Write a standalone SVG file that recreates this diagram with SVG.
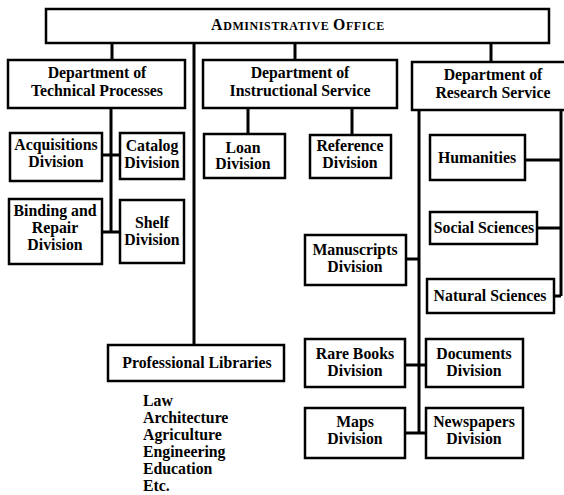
<svg xmlns="http://www.w3.org/2000/svg" width="564" height="495" viewBox="0 0 564 495">
<style>
  .bx { fill: #fff; stroke: #000; stroke-width: 2.5; }
  .ln { fill: none; stroke: #000; stroke-width: 3; stroke-linecap: butt; }
  text { font-family: "Liberation Serif", "Times New Roman", serif; font-weight: bold; font-size: 15.8px; fill: #000; }
  .c { text-anchor: middle; }
  .sc { font-size: 12px; }
</style>
<rect width="564" height="495" fill="#fff"/>
<g id="connectors">
  <path class="ln" d="M112 43V60 M295 43V60 M491 43V62"/>
  <path class="ln" d="M194 43V345"/>
  <path class="ln" d="M111 108V232 M102 155H120 M102 232H120"/>
  <path class="ln" d="M248 108V134 M352 108V135"/>
  <path class="ln" d="M419 110V433 M406 259H419 M405 365H426 M405 433H426"/>
  <path class="ln" d="M561 110V296 M525 160H561 M537 228H561 M554 296H561"/>
</g>
<g id="admin">
  <rect class="bx" x="46" y="9" width="503" height="34"/>
  <text class="c" x="298" y="30" letter-spacing="0.6">A<tspan class="sc">DMINISTRATIVE </tspan>O<tspan class="sc">FFICE</tspan></text>
</g>
<g id="dept-technical">
  <rect class="bx" x="8" y="60" width="177" height="48"/>
  <text class="c" x="97" y="78">Department of</text>
  <text class="c" x="97" y="96">Technical Processes</text>
</g>
<g id="dept-instructional">
  <rect class="bx" x="203" y="60" width="194" height="48"/>
  <text class="c" x="300" y="78">Department of</text>
  <text class="c" x="300" y="96">Instructional Service</text>
</g>
<g id="dept-research">
  <rect class="bx" x="412" y="62" width="160" height="48"/>
  <text class="c" x="493" y="80">Department of</text>
  <text class="c" x="493" y="98">Research Service</text>
</g>
<g id="acquisitions">
  <rect class="bx" x="10" y="133" width="92" height="48"/>
  <text class="c" x="56" y="150">Acquisitions</text>
  <text class="c" x="56" y="167">Division</text>
</g>
<g id="catalog">
  <rect class="bx" x="120" y="133" width="64" height="46"/>
  <text class="c" x="152" y="151">Catalog</text>
  <text class="c" x="152" y="168">Division</text>
</g>
<g id="binding">
  <rect class="bx" x="9" y="199" width="93" height="65"/>
  <text class="c" x="55" y="216">Binding and</text>
  <text class="c" x="55" y="233">Repair</text>
  <text class="c" x="55" y="250">Division</text>
</g>
<g id="shelf">
  <rect class="bx" x="120" y="200" width="64" height="63"/>
  <text class="c" x="152" y="228">Shelf</text>
  <text class="c" x="152" y="245">Division</text>
</g>
<g id="loan">
  <rect class="bx" x="204" y="134" width="81" height="44"/>
  <text class="c" x="243" y="153">Loan</text>
  <text class="c" x="243" y="169">Division</text>
</g>
<g id="reference">
  <rect class="bx" x="310" y="135" width="81" height="43"/>
  <text class="c" x="350" y="151">Reference</text>
  <text class="c" x="350" y="168">Division</text>
</g>
<g id="professional">
  <rect class="bx" x="108" y="345" width="176" height="36"/>
  <text class="c" x="197" y="368">Professional Libraries</text>
</g>
<g id="professional-list">
  <text x="143" y="406">Law</text>
  <text x="143" y="423">Architecture</text>
  <text x="143" y="440">Agriculture</text>
  <text x="143" y="457">Engineering</text>
  <text x="143" y="474">Education</text>
  <text x="143" y="491">Etc.</text>
</g>
<g id="humanities">
  <rect class="bx" x="430" y="135" width="95" height="45"/>
  <text class="c" x="477" y="163">Humanities</text>
</g>
<g id="social">
  <rect class="bx" x="430" y="212" width="107" height="32"/>
  <text class="c" x="484" y="233">Social Sciences</text>
</g>
<g id="natural">
  <rect class="bx" x="427" y="279" width="127" height="34"/>
  <text class="c" x="490" y="301">Natural Sciences</text>
</g>
<g id="manuscripts">
  <rect class="bx" x="305" y="235" width="101" height="50"/>
  <text class="c" x="355" y="255">Manuscripts</text>
  <text class="c" x="355" y="272">Division</text>
</g>
<g id="rare-books">
  <rect class="bx" x="305" y="339" width="100" height="48"/>
  <text class="c" x="355" y="359">Rare Books</text>
  <text class="c" x="355" y="376">Division</text>
</g>
<g id="documents">
  <rect class="bx" x="426" y="339" width="97" height="48"/>
  <text class="c" x="474" y="359">Documents</text>
  <text class="c" x="474" y="376">Division</text>
</g>
<g id="maps">
  <rect class="bx" x="305" y="408" width="100" height="50"/>
  <text class="c" x="355" y="427">Maps</text>
  <text class="c" x="355" y="444">Division</text>
</g>
<g id="newspapers">
  <rect class="bx" x="426" y="408" width="97" height="50"/>
  <text class="c" x="474" y="427">Newspapers</text>
  <text class="c" x="474" y="444">Division</text>
</g>
</svg>
